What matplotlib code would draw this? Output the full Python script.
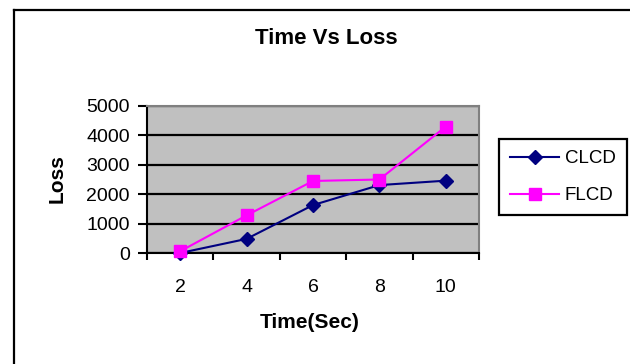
import matplotlib
matplotlib.use('Agg')
import matplotlib.pyplot as plt
from matplotlib.lines import Line2D

plt.rcParams['font.family'] = ['Liberation Sans', 'DejaVu Sans']

# chart data
times = ['2', '4', '6', '8', '10']
clcd = [0, 480, 1630, 2310, 2460]
flcd = [60, 1280, 2450, 2500, 4300]
y_ticks = [0, 1000, 2000, 3000, 4000, 5000]

fig = plt.figure(figsize=(6.3, 3.64), dpi=100)
fig.patch.set_facecolor('white')

# outer chart frame, only left and top edges fall inside the picture
x0, y0 = 13.5 / 630, 1 - 10 / 364
fig.add_artist(Line2D([x0, x0], [-0.05, y0], transform=fig.transFigure,
                      color='black', linewidth=1.6))
fig.add_artist(Line2D([x0, 1.05], [y0, y0], transform=fig.transFigure,
                      color='black', linewidth=1.6))

ax = fig.add_axes([147 / 630, 1 - 253 / 364, 332 / 630, 147 / 364])
ax.set_facecolor('#C0C0C0')

xs = list(range(len(times)))
ax.plot(xs, clcd, color='#000080', marker='D', markersize=7.5, linewidth=1.5,
        label='CLCD', clip_on=False, zorder=3)
ax.plot(xs, flcd, color='#FF00FF', marker='s', markersize=8.5, linewidth=1.5,
        label='FLCD', clip_on=False, zorder=4)

ax.set_xlim(-0.5, len(times) - 0.5)
ax.set_ylim(0, 5000)
ax.set_yticks(y_ticks)
ax.set_yticklabels([str(v) for v in y_ticks], fontsize=14)
ax.yaxis.grid(True, color='black', linewidth=1.6)
ax.set_axisbelow(True)

# labels at category centres, tick marks at the boundaries
ax.set_xticks(xs)
ax.set_xticklabels(times, fontsize=14)
ax.set_xticks([i - 0.5 for i in range(len(times) + 1)], minor=True)
ax.tick_params(axis='x', which='major', length=0, pad=19)
ax.tick_params(axis='x', which='minor', length=5, width=1.5, direction='out')
ax.tick_params(axis='y', length=6.5, width=1.5, direction='out', pad=6)

for side in ['top', 'right']:
    ax.spines[side].set_color('#808080')
    ax.spines[side].set_linewidth(1.5)
for side in ['left', 'bottom']:
    ax.spines[side].set_color('black')
    ax.spines[side].set_linewidth(1.5)

fig.text(326 / 630, 1 - 38 / 364, 'Time Vs Loss', ha='center', va='center',
         fontsize=16, fontweight='bold')
fig.text(310 / 630, 1 - 323 / 364, 'Time(Sec)', ha='center', va='center',
         fontsize=15, fontweight='bold')
fig.text(57 / 630, 1 - 179 / 364, 'Loss', ha='center', va='center',
         rotation=90, fontsize=15, fontweight='bold')

leg = ax.legend(loc='upper left', bbox_to_anchor=(499 / 630, 1 - 139 / 364),
                bbox_transform=fig.transFigure, fontsize=13.5, frameon=True,
                fancybox=False, borderpad=0.6, handlelength=2.6,
                labelspacing=1.05, handletextpad=0.3, borderaxespad=0)
leg.get_frame().set_edgecolor('black')
leg.get_frame().set_linewidth(1.6)
leg.get_frame().set_alpha(1)

fig.savefig('out.png', dpi=100)
